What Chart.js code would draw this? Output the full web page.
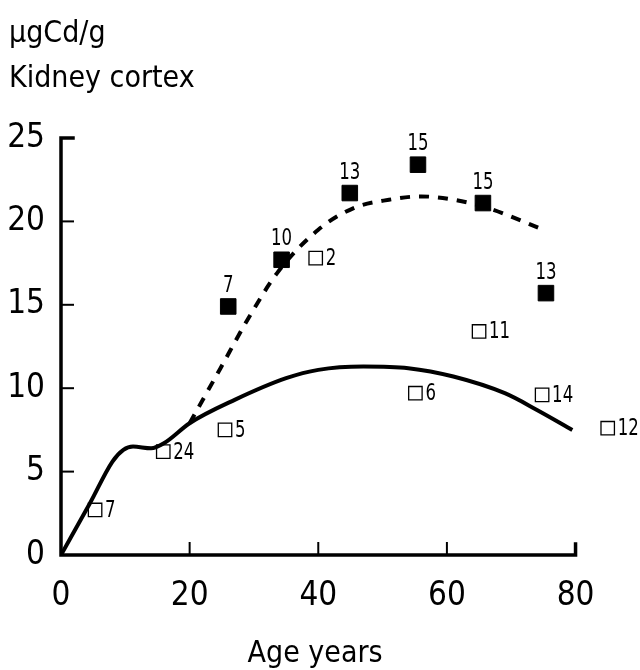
<!DOCTYPE html>
<html>
<head>
<meta charset="utf-8">
<script src="https://cdn.jsdelivr.net/npm/chart.js@4.4.1/dist/chart.umd.min.js"></script>
<style>
  html, body { margin: 0; padding: 0; background: #fff; }
  #wrap { width: 640px; height: 670px; }
</style>
</head>
<body>
<div id="wrap"><canvas id="chart" width="640" height="670"></canvas></div>
<script>
const FONT = '"DejaVu Sans Condensed", "DejaVu Sans", sans-serif';

// group means (filled squares) and their n
const filledAge = [26, 34.3, 44.9, 55.5, 65.6, 75.4];
const filledCd = [14.9, 17.7, 21.7, 23.4, 21.1, 15.7];
const filledN = ["7", "10", "13", "15", "15", "13"];

// other study (open squares) and their n
const openAge = [5.3, 15.9, 25.5, 39.6, 55.1, 65, 74.8, 85];
const openCd = [2.7, 6.2, 7.5, 17.8, 9.7, 13.4, 9.6, 7.6];
const openN = ["7", "24", "5", "2", "6", "11", "14", "12"];

// fitted curves
const solidAge = [0, 4.5, 8, 9.7, 11.2, 14, 16, 20, 27, 35, 40, 47, 54, 61, 69, 74, 79.5];
const solidCd = [0, 3.1, 5.6, 6.3, 6.5, 6.4, 6.7, 7.9, 9.3, 10.6, 11.1, 11.3, 11.2, 10.7, 9.7, 8.7, 7.5];
const dashAge = [20, 24.8, 29, 33.6, 40, 45.5, 51, 56, 61, 66.4, 75];
const dashCd = [7.9, 11.2, 14.1, 16.9, 19.5, 20.8, 21.3, 21.5, 21.3, 20.8, 19.5];

const xTicks = [0, 20, 40, 60, 80];
const yTicks = [0, 5, 10, 15, 20, 25];
const xAxisEnd = 80;   // drawn axis stops here, scale runs on to fit the 85 yr point
const xScaleMax = 88;

const pts = (xs, ys) => xs.map((x, i) => ({ x: x, y: ys[i] }));

// narrow text for the n labels (the original uses a condensed stencil face)
function narrowText(ctx, text, x, y) {
  ctx.save();
  ctx.translate(x, y);
  ctx.scale(0.8, 1);
  ctx.fillText(text, 0, 0);
  ctx.restore();
}

// draws the axis frame with inward ticks, the n labels and the header text
const extras = {
  id: "extras",
  afterDatasetsDraw(chart) {
    const ctx = chart.ctx;
    const xs = chart.scales.x, ys = chart.scales.y;
    const x0 = xs.getPixelForValue(0), xEnd = xs.getPixelForValue(xAxisEnd);
    const y0 = ys.getPixelForValue(0), y25 = ys.getPixelForValue(25);
    ctx.save();
    ctx.strokeStyle = "#000";
    ctx.lineWidth = 3.5;
    ctx.lineCap = "square";
    ctx.beginPath();
    ctx.moveTo(x0 + 12, y25);
    ctx.lineTo(x0, y25);
    ctx.lineTo(x0, y0);
    ctx.lineTo(xEnd, y0);
    ctx.lineTo(xEnd, y0 - 11);
    ctx.stroke();
    ctx.lineWidth = 2;
    ctx.lineCap = "butt";
    yTicks.slice(1, 5).forEach(v => {
      const y = ys.getPixelForValue(v);
      ctx.beginPath(); ctx.moveTo(x0, y); ctx.lineTo(x0 + 13, y); ctx.stroke();
    });
    xTicks.slice(1, 4).forEach(v => {
      const x = xs.getPixelForValue(v);
      ctx.beginPath(); ctx.moveTo(x, y0); ctx.lineTo(x, y0 - 13); ctx.stroke();
    });

    ctx.fillStyle = "#000";
    ctx.font = "23px " + FONT;
    ctx.textAlign = "center";
    ctx.textBaseline = "bottom";
    filledAge.forEach((a, i) => {
      narrowText(ctx, filledN[i], xs.getPixelForValue(a), ys.getPixelForValue(filledCd[i]) - 9);
    });
    ctx.textAlign = "left";
    ctx.textBaseline = "middle";
    openAge.forEach((a, i) => {
      narrowText(ctx, openN[i], xs.getPixelForValue(a) + 10, ys.getPixelForValue(openCd[i]) + 1);
    });

    ctx.font = "30px " + FONT;
    ctx.textBaseline = "alphabetic";
    ctx.fillText("\u00b5gCd/g", 9, 42);
    ctx.fillText("Kidney cortex", 9, 87);
    ctx.textAlign = "center";
    ctx.fillText("Age years", xs.getPixelForValue(39.5), 662);
    ctx.restore();
  }
};

const ctx = document.getElementById("chart").getContext("2d");

new Chart(ctx, {
  type: "scatter",
  data: {
    datasets: [
      {
        data: pts(solidAge, solidCd),
        showLine: true,
        borderColor: "#000",
        borderWidth: 4,
        pointRadius: 0,
        cubicInterpolationMode: "monotone",
        fill: false
      },
      {
        data: pts(dashAge, dashCd),
        showLine: true,
        borderColor: "#000",
        borderWidth: 4,
        borderDash: [10, 9],
        pointRadius: 0,
        cubicInterpolationMode: "monotone",
        fill: false
      },
      {
        data: pts(filledAge, filledCd),
        pointStyle: "rect",
        pointRadius: 11,
        backgroundColor: "#000",
        borderColor: "#000",
        borderWidth: 1
      },
      {
        data: pts(openAge, openCd),
        pointStyle: "rect",
        pointRadius: 9.5,
        backgroundColor: "#fff",
        borderColor: "#000",
        borderWidth: 1.3
      }
    ]
  },
  options: {
    responsive: false,
    animation: false,
    events: [],
    layout: { padding: { left: 0, right: 13, top: 138, bottom: 0 } },
    plugins: {
      legend: { display: false },
      tooltip: { enabled: false }
    },
    scales: {
      x: {
        type: "linear",
        min: 0,
        max: xScaleMax,
        afterFit: s => { s.height = 115; },
        afterBuildTicks: s => { s.ticks = xTicks.map(v => ({ value: v })); },
        grid: { display: false, drawTicks: false },
        border: { display: false },
        ticks: { color: "#000", padding: 22, font: { family: FONT, size: 33 } }
      },
      y: {
        type: "linear",
        min: 0,
        max: 25,
        afterFit: s => { s.width = 61; },
        afterBuildTicks: s => { s.ticks = yTicks.map(v => ({ value: v })); },
        grid: { display: false, drawTicks: false },
        border: { display: false },
        ticks: { color: "#000", padding: 16, font: { family: FONT, size: 33 } }
      }
    }
  },
  plugins: [extras]
});
</script>
</body>
</html>
